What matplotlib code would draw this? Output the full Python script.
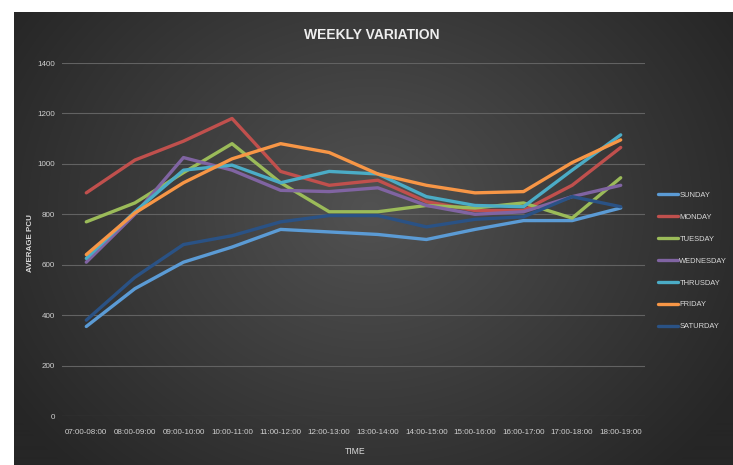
import numpy as np
import matplotlib
matplotlib.use("Agg")
import matplotlib.pyplot as plt

plt.rcParams['font.family'] = ['Liberation Sans', 'DejaVu Sans']

times = ["07:00-08:00", "08:00-09:00", "09:00-10:00", "10:00-11:00", "11:00-12:00",
         "12:00-13:00", "13:00-14:00", "14:00-15:00", "15:00-16:00", "16:00-17:00",
         "17:00-18:00", "18:00-19:00"]

sunday    = [355, 505, 610, 670, 740, 730, 720, 700, 740, 775, 775, 825]
monday    = [885, 1015, 1090, 1180, 970, 915, 935, 850, 815, 815, 915, 1065]
tuesday   = [770, 845, 965, 1080, 925, 810, 810, 835, 825, 845, 785, 945]
wednesday = [610, 800, 1025, 975, 895, 890, 905, 835, 800, 810, 870, 915]
thursday  = [625, 810, 975, 995, 925, 970, 960, 870, 835, 830, 975, 1115]
friday    = [640, 805, 925, 1020, 1080, 1045, 960, 915, 885, 890, 1005, 1095]
saturday  = [380, 550, 680, 715, 770, 795, 795, 750, 780, 790, 870, 830]

series = [("SUNDAY", sunday, "#5b9bd5"),
          ("MONDAY", monday, "#c0504d"),
          ("TUESDAY", tuesday, "#9bbb59"),
          ("WEDNESDAY", wednesday, "#8064a2"),
          ("THRUSDAY", thursday, "#4bacc6"),
          ("FRIDAY", friday, "#f79646"),
          ("SATURDAY", saturday, "#2a5285")]

W, H = 733, 465
fig = plt.figure(figsize=(W / 100, H / 100), dpi=100)
fig.patch.set_facecolor("white")

# background radial gradient
bx0, by1 = 14, 12
bg = fig.add_axes([bx0 / W, 0, 1 - bx0 / W, 1 - by1 / H])
bg.set_axis_off()
gy, gx = np.mgrid[0:H - by1, 0:W - bx0]
cx, cy = 370 - bx0, 210 - by1
r = np.sqrt(((gx - cx) / 430.0) ** 2 + ((gy - cy) / 360.0) ** 2)
r = np.clip(r, 0, 1)
c_in = np.array([0x52, 0x52, 0x52]) / 255
c_out = np.array([0x26, 0x26, 0x26]) / 255
img = c_in[None, None, :] * (1 - r[..., None]) + c_out[None, None, :] * r[..., None]
bg.imshow(img, aspect='auto', extent=[0, 1, 0, 1])
bg.set_xlim(0, 1); bg.set_ylim(0, 1)

ax = fig.add_axes([62 / W, (H - 416) / H, (645 - 62) / W, (416 - 63) / H])
ax.set_facecolor("none")
x = np.arange(len(times))
for name, vals, col in series:
    ax.plot(x, vals, color=col, lw=2.4, label=name, solid_capstyle='round')

ax.set_xlim(-0.5, len(times) - 0.5)
ax.set_ylim(0, 1400)
ax.set_yticks(range(0, 1401, 200))
ax.set_xticks(x)
ax.set_xticklabels(times)
ax.tick_params(colors="#d0d0d0", labelsize=5.8, length=0)
ax.tick_params(axis='y', pad=5)
ax.tick_params(axis='x', pad=9)
ax.grid(axis='y', color="#626262", lw=0.8)
ax.set_axisbelow(True)
for s in ax.spines.values():
    s.set_visible(False)

fig.text(31 / W, 1 - 243 / H, "AVERAGE PCU", color="#d9d9d9", fontsize=5.8,
         fontweight='bold', rotation=90, ha='center', va='center')
fig.text(355 / W, 1 - 451 / H, "TIME", color="#d9d9d9", fontsize=6.2, ha='center', va='center')

fig.text(372 / W, 1 - 35 / H, "WEEKLY VARIATION", color="#eeeeee", fontsize=10,
         fontweight='bold', ha='center', va='center')

fig.legend(loc='center left', bbox_to_anchor=(658 / W, 1 - 261 / H), frameon=False,
           fontsize=5.4, labelcolor="#d9d9d9", handlelength=2.6,
           handletextpad=0.25, labelspacing=1.95, borderaxespad=0, borderpad=0)

fig.savefig("out.png", dpi=100, facecolor=fig.get_facecolor())
